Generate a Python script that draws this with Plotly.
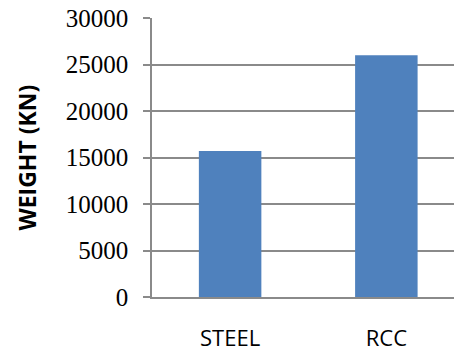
import plotly.graph_objects as go

categories = ["STEEL", "RCC"]
weights = [15700, 26000]
y_ticks = [0, 5000, 10000, 15000, 20000, 25000, 30000]
y_tick_labels = ["0", "5000", "10000", "15000", "20000", "25000", "30000"]

fig = go.Figure()
fig.add_trace(go.Bar(x=categories, y=weights, marker=dict(color="#4F81BD", line=dict(width=0)), width=0.4))

grid = "#8a8a8a"
fig.update_layout(
    width=454, height=351,
    margin=dict(l=152, r=0, t=18, b=54),
    paper_bgcolor="white", plot_bgcolor="white",
    showlegend=False,
    xaxis=dict(
        range=[-0.5, 1.433], automargin=False,
        showline=True, linecolor=grid, linewidth=1.5,
        showgrid=False, ticks="",
        tickfont=dict(family="Open Sans", size=22, color="black"),
        ticklabelstandoff=21,
    ),
    yaxis=dict(
        range=[0, 30000], tickvals=y_ticks, ticktext=y_tick_labels,
        automargin=False,
        showline=True, linecolor=grid, linewidth=1.5,
        showgrid=True, gridcolor=grid, gridwidth=1.5,
        ticks="outside", ticklen=7, tickcolor=grid, tickwidth=1.5,
        tickfont=dict(family="Liberation Serif", size=25, color="black"),
        ticklabelstandoff=10,
        zeroline=False,
    ),
    annotations=[dict(
        text="<b>WEIGHT (KN)</b>", textangle=-90,
        xref="paper", yref="paper", x=-0.417, y=0.5,
        xanchor="center", yanchor="middle", showarrow=False,
        font=dict(family="Open Sans", size=23, color="black"),
    )],
)

fig.write_html("out.html")
